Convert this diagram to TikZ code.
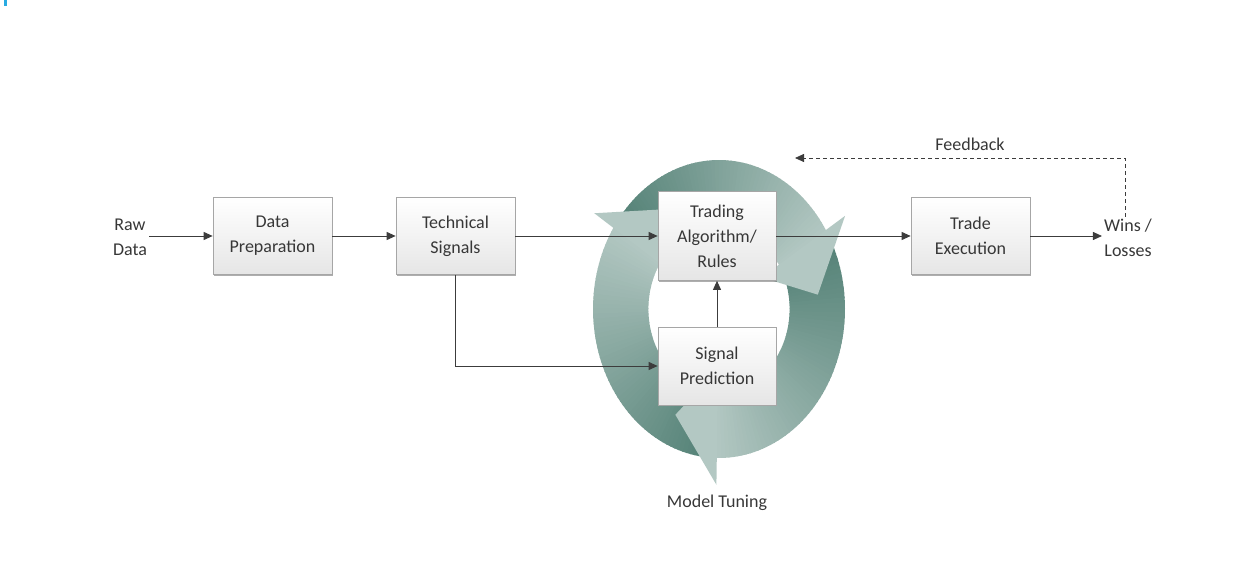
\documentclass[tikz,border=0pt]{standalone}
\usepackage{fontspec}
\setmainfont{Carlito}
\usetikzlibrary{arrows.meta,shadows}
\definecolor{tdark}{RGB}{86,131,120}
\definecolor{tlight}{RGB}{212,224,221}
\definecolor{txt}{RGB}{55,55,55}
\definecolor{ln}{RGB}{60,60,60}
\definecolor{cornerblue}{RGB}{41,171,226}
\newcommand{\tealband}[2]{%
  \foreach \s in {0,...,59} {
    \pgfmathsetmacro\aA{#1-(#1-(#2))*\s/60}
    \pgfmathsetmacro\aB{#1-(#1-(#2))*(\s+1)/60-0.4}
    \pgfmathsetmacro\pc{100-72*\s/59}
    \fill[tdark!\pc!tlight] ({719+126*cos(\aA)},{309-149*sin(\aA)}) -- ({719+126*cos(\aB)},{309-149*sin(\aB)}) -- ({719+70.6*cos(\aB)},{309-83.4*sin(\aB)}) -- ({719+70.6*cos(\aA)},{309-83.4*sin(\aA)}) -- cycle;
  }}
\newcommand{\tealhead}[1]{%
  \fill[tdark!26!tlight] ({719+126*1.18*cos(#1)},{309-149*1.18*sin(#1)}) -- ({719+126*0.79*cos(#1-25)},{309-149*0.79*sin(#1-25)}) -- ({719+126*0.40*cos(#1)},{309-149*0.40*sin(#1)}) -- cycle;}
\begin{document}
\begin{tikzpicture}[x=1pt,y=-1pt,
  box/.style={draw=gray!70, line width=0.7pt, top color=white, bottom color=black!10,
    minimum width=119pt, minimum height=77pt, align=center, inner sep=2pt,
    font=\fontsize{18}{25}\selectfont, text=txt,
    drop shadow={shadow xshift=1pt, shadow yshift=-1.3pt, opacity=0.45, fill=black!70}},
  lbl/.style={align=center, inner sep=2pt, font=\fontsize{18}{25}\selectfont, text=txt},
  arr/.style={draw=ln, line width=0.9pt, -{Triangle[length=9pt,width=8pt]}},
  fbarr/.style={arr, dash pattern=on 4pt off 3pt, line width=0.8pt},
]
\useasboundingbox (0,0) rectangle (1243,569);
\fill[cornerblue] (3.5,0) rectangle (6.5,6);
% cycle of three arrows
\tealband{141}{32}
\tealband{26}{-91}
\tealband{263}{147}
\tealhead{32}
\tealhead{-91}
\tealhead{147}
% nodes
\node[box] (dp) at (272.5,236) {Data\\Preparation};
\node[box] (ts) at (455.5,236) {Technical\\Signals};
\node[box, minimum width=118pt, minimum height=89pt] (ta) at (717,236) {Trading\\Algorithm/\\Rules};
\node[box, minimum width=118pt, minimum height=78pt] (sp) at (717,366) {Signal\\Prediction};
\node[box] (te) at (970.5,236) {Trade\\Execution};
\node[lbl] (raw) at (130,237) {Raw\\Data};
\node[lbl] (wins) at (1128,238) {Wins /\\Losses};
\node[lbl] (fb) at (970,144) {Feedback};
\node[lbl] (mt) at (717,503) {Model Tuning};
\coordinate (fbend) at (795,158);
% connectors
\draw[arr] (raw.east |- dp.west) -- (dp.west);
\draw[arr] (dp) -- (ts);
\draw[arr] (ts) -- (ta);
\draw[arr] (ta) -- (te);
\draw[arr] (te.east) -- (te.east -| wins.west);
\draw[arr] (ts.south) |- (sp.west);
\draw[arr] (sp) -- (ta);
\draw[fbarr] ([xshift=-3pt]wins.north) |- (fbend);
\end{tikzpicture}
\end{document}
